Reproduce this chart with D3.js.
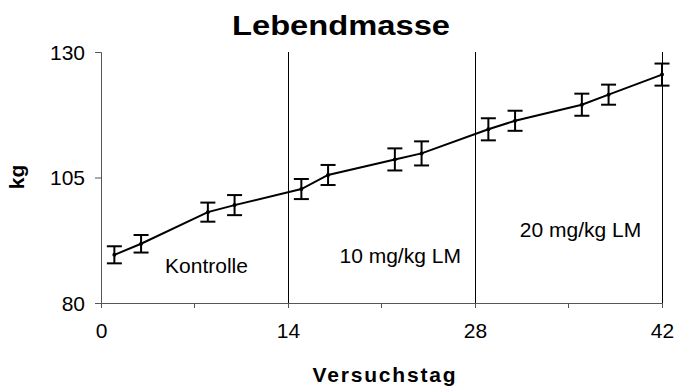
<!DOCTYPE html>
<html>
<head>
<meta charset="utf-8">
<script src="https://cdn.jsdelivr.net/npm/d3@7/dist/d3.min.js"></script>
<style>
  html, body { margin: 0; padding: 0; background: #fff; }
  svg { display: block; }
  text { font-family: "Liberation Sans", Arial, sans-serif; fill: #000; }
</style>
</head>
<body>
<svg id="chart" width="676" height="389"></svg>
<script>
// Lebendmasse je Versuchstag (Mittelwert ± Standardfehler)
const days  = [1, 3, 8, 10, 15, 17, 22, 24, 29, 31, 36, 38, 42];
const mass  = [89.6, 91.8, 98.1, 99.5, 102.7, 105.5, 108.6, 109.8, 114.6, 116.3, 119.5, 121.5, 125.5];
const sem   = [1.7, 1.75, 1.9, 2.0, 2.0, 2.0, 2.2, 2.4, 2.2, 2.0, 2.2, 2.0, 2.2];

const xTicks = [0, 14, 28, 42];
const xMinorTicks = [7, 21, 35];
const yTicks = [80, 105, 130];
const phaseBounds = [14, 28, 42];
const phaseLabels = ["Kontrolle", "10 mg/kg LM", "20 mg/kg LM"];
const phaseLabelDay = [7.9, 22.4, 35.9];
const phaseLabelKg = [85.9, 88.0, 93.2];

const title = "Lebendmasse";
const xTitle = "Versuchstag";
const yTitle = "kg";

const svg = d3.select("#chart");
const x = d3.scaleLinear().domain([0, 42]).range([101, 662]);
const y = d3.scaleLinear().domain([80, 130]).range([303, 52]);

const axisColor = "#555";
const fontSize = 21;

// phase separators
svg.append("g").selectAll("line").data(phaseBounds).join("line")
  .attr("x1", d => Math.round(x(d)) + 0.5).attr("x2", d => Math.round(x(d)) + 0.5)
  .attr("y1", y(80)).attr("y2", y(130))
  .attr("stroke", "#000").attr("stroke-width", 1);

// x axis
const xAxis = svg.append("g").attr("transform", `translate(0,${y(80)})`)
  .call(d3.axisBottom(x).tickValues(xTicks).tickSize(5).tickPadding(15).tickFormat(d3.format("d")));
xAxis.append("g").selectAll("line").data(xMinorTicks).join("line")
  .attr("x1", d => x(d)).attr("x2", d => x(d)).attr("y1", 0).attr("y2", 5)
  .attr("stroke", axisColor);

// y axis
const yAxis = svg.append("g").attr("transform", `translate(${x(0)},0)`)
  .call(d3.axisLeft(y).tickValues(yTicks).tickSize(6).tickPadding(10).tickFormat(d3.format("d")));

[xAxis, yAxis].forEach(g => {
  g.select(".domain").attr("stroke", axisColor).attr("stroke-width", 1);
  g.selectAll(".tick line").attr("stroke", axisColor);
  g.selectAll(".tick text").attr("font-size", fontSize).attr("fill", "#000")
    .attr("font-family", "'Liberation Sans', Arial, sans-serif");
});
yAxis.selectAll(".tick text").attr("dy", "0.35em");

// phase labels
svg.append("g").selectAll("text").data(phaseLabels).join("text")
  .attr("x", (d, i) => x(phaseLabelDay[i]))
  .attr("y", (d, i) => y(phaseLabelKg[i]))
  .attr("text-anchor", "middle")
  .attr("font-size", fontSize)
  .text(d => d);

// mean line
const pts = days.map((d, i) => ({ day: d, m: mass[i], e: sem[i] }));
svg.append("path").datum(pts)
  .attr("fill", "none").attr("stroke", "#000").attr("stroke-width", 2)
  .attr("d", d3.line().x(d => x(d.day)).y(d => y(d.m)));

// error bars
const eb = svg.append("g").attr("stroke", "#000").attr("stroke-width", 2);
const capW = 7.5;
pts.forEach(p => {
  const cx = x(p.day);
  eb.append("line").attr("x1", cx).attr("x2", cx).attr("y1", y(p.m - p.e)).attr("y2", y(p.m + p.e));
  eb.append("line").attr("x1", cx - capW).attr("x2", cx + capW).attr("y1", y(p.m - p.e)).attr("y2", y(p.m - p.e));
  eb.append("line").attr("x1", cx - capW).attr("x2", cx + capW).attr("y1", y(p.m + p.e)).attr("y2", y(p.m + p.e));
});
svg.append("g").selectAll("circle").data(pts).join("circle")
  .attr("cx", d => x(d.day)).attr("cy", d => y(d.m)).attr("r", 2).attr("fill", "#000");

// titles
svg.append("text").attr("x", 341).attr("y", 35)
  .attr("text-anchor", "middle").attr("font-size", 28).attr("font-weight", "bold")
  .attr("textLength", 218).attr("lengthAdjust", "spacingAndGlyphs")
  .text(title);

svg.append("text").attr("x", 384).attr("y", 382)
  .attr("text-anchor", "middle").attr("font-size", 21).attr("font-weight", "bold")
  .attr("textLength", 143).attr("lengthAdjust", "spacing")
  .text(xTitle);

svg.append("text")
  .attr("transform", `translate(24,177) rotate(-90)`)
  .attr("text-anchor", "middle").attr("font-size", 21).attr("font-weight", "bold")
  .text(yTitle);
</script>
</body>
</html>
